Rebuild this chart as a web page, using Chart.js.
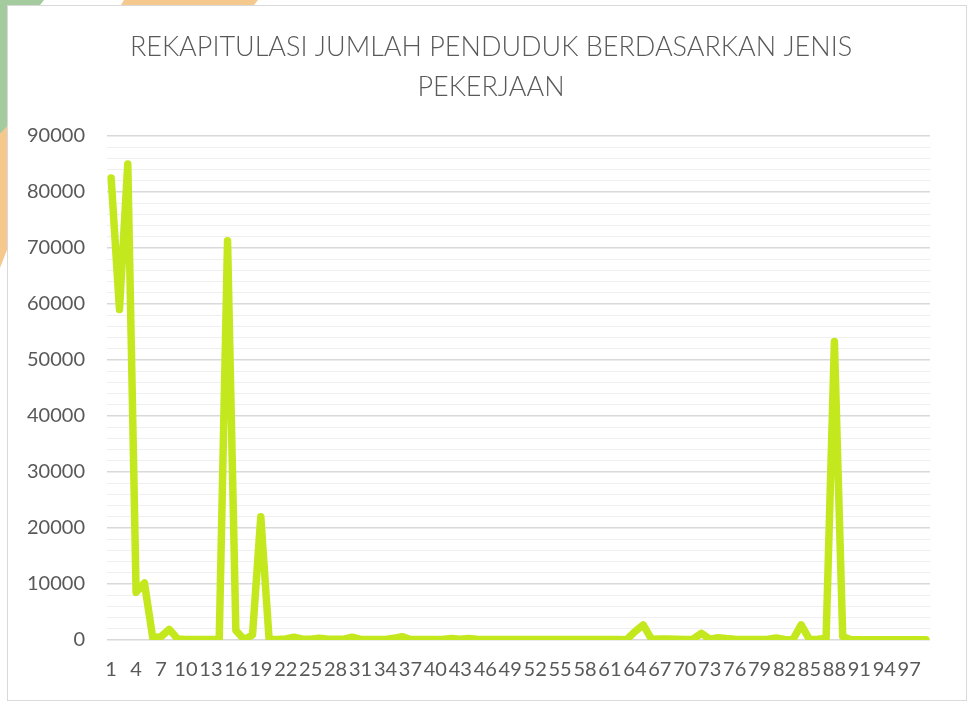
<!DOCTYPE html>
<html>
<head>
<meta charset="utf-8">
<script src="https://cdn.jsdelivr.net/npm/chart.js@4.4.0/dist/chart.umd.min.js"></script>
<style>
html, body { margin: 0; padding: 0; background: #fff; }
#deco { position: absolute; left: 0; top: 0; }
#box { position: absolute; left: 7px; top: 5px; width: 958px; height: 694px; border: 1px solid #d9d9d9; background: #fff; }
</style>
</head>
<body>
<svg id="deco" width="967" height="703">
  <polygon points="0,0 44,0 40,5 7,5 7,128 0,134" fill="#a3cb9e"/>
  <polygon points="124,0 258,0 254,5 121,5" fill="#f5c88e"/>
  <polygon points="0,134 7,126 7,250 0,268" fill="#f5c88e"/>
</svg>
<div id="box"><canvas id="line-chart"></canvas></div>
<script>
// categories (jenis pekerjaan, numbered 1..99)
var categories = [
    1, 2, 3, 4, 5, 6, 7, 8, 9, 10, 11, 12, 13, 14, 15, 16, 17, 18, 19, 20,
    21, 22, 23, 24, 25, 26, 27, 28, 29, 30, 31, 32, 33, 34, 35, 36, 37, 38, 39, 40,
    41, 42, 43, 44, 45, 46, 47, 48, 49, 50, 51, 52, 53, 54, 55, 56, 57, 58, 59, 60,
    61, 62, 63, 64, 65, 66, 67, 68, 69, 70, 71, 72, 73, 74, 75, 76, 77, 78, 79, 80,
    81, 82, 83, 84, 85, 86, 87, 88, 89, 90, 91, 92, 93, 94, 95, 96, 97, 98, 99
];

// jumlah penduduk per jenis pekerjaan
var jumlahPenduduk = [
    82500, 59000, 85000, 8500, 10200, 400, 600, 1900, 200, 100,
    100, 100, 100, 100, 71300, 1700, 100, 900, 22000, 100,
    100, 200, 500, 150, 150, 300, 200, 150, 150, 500,
    100, 100, 100, 100, 300, 600, 100, 100, 100, 100,
    150, 250, 150, 250, 150, 100, 100, 80, 80, 80,
    80, 80, 80, 80, 80, 80, 80, 80, 80, 80,
    80, 80, 50, 1500, 2700, 150, 200, 200, 150, 100,
    150, 1200, 150, 400, 250, 150, 100, 100, 100, 150,
    350, 100, 50, 2700, 100, 150, 300, 53300, 600, 50,
    30, 30, 30, 30, 30, 30, 30, 30, 30
];

var yMax = 90000;
var yMajorStep = 10000;
var yMinorStep = 2000;
var labelEvery = 3;

new Chart(document.getElementById("line-chart"), {
    type: 'line',
    data: {
        labels: categories,
        datasets: [{
            label: "Jumlah Penduduk",
            data: jumlahPenduduk,
            yAxisID: 'y',
            borderColor: "#c4e81e",
            backgroundColor: "#c4e81e",
            borderWidth: 7.5,
            borderJoinStyle: 'round',
            borderCapStyle: 'round',
            pointRadius: 0,
            tension: 0,
            fill: false
        }]
    },
    options: {
        responsive: true,
        maintainAspectRatio: false,
        animation: false,
        layout: {
            padding: { left: 16, right: 8, top: 0, bottom: 0 }
        },
        plugins: {
            legend: { display: false },
            tooltip: { enabled: false },
            title: {
                display: true,
                text: ['REKAPITULASI JUMLAH PENDUDUK BERDASARKAN JENIS', 'PEKERJAAN'],
                color: '#595959',
                font: { family: 'Lato', size: 27, weight: '300', lineHeight: 1.5 },
                padding: { top: 21, bottom: 28 }
            }
        },
        scales: {
            x: {
                offset: true,
                grid: { display: false, drawTicks: false },
                border: { display: false },
                ticks: {
                    autoSkip: false,
                    maxRotation: 0,
                    minRotation: 0,
                    padding: 19,
                    color: '#595959',
                    font: { family: 'Lato', size: 20, lineHeight: 1.1 },
                    callback: function (val, idx) {
                        return idx % labelEvery === 0 ? this.getLabelForValue(val) : '';
                    }
                }
            },
            y: {
                min: 0,
                max: yMax,
                border: { display: false },
                afterFit: function (scale) {
                    scale.width = 83;
                },
                grid: {
                    drawTicks: false,
                    color: function (ctx) {
                        return ctx.tick && ctx.tick.value % yMajorStep === 0 ? '#d9d9d9' : '#efefef';
                    },
                    lineWidth: function (ctx) {
                        return ctx.tick && ctx.tick.value % yMajorStep === 0 ? 1.5 : 1;
                    }
                },
                ticks: {
                    stepSize: yMinorStep,
                    autoSkip: false,
                    padding: 22,
                    color: '#595959',
                    font: { family: 'Lato', size: 20 },
                    callback: function (val) {
                        return val % yMajorStep === 0 ? val : '';
                    }
                }
            },
            // empty right-hand axis, only keeps the white margin right of the plot
            yRight: {
                position: 'right',
                min: 0,
                max: yMax,
                grid: { display: false, drawTicks: false },
                border: { display: false },
                ticks: { display: false },
                afterFit: function (scale) {
                    scale.width = 28;
                }
            }
        }
    }
});
</script>
</body>
</html>
